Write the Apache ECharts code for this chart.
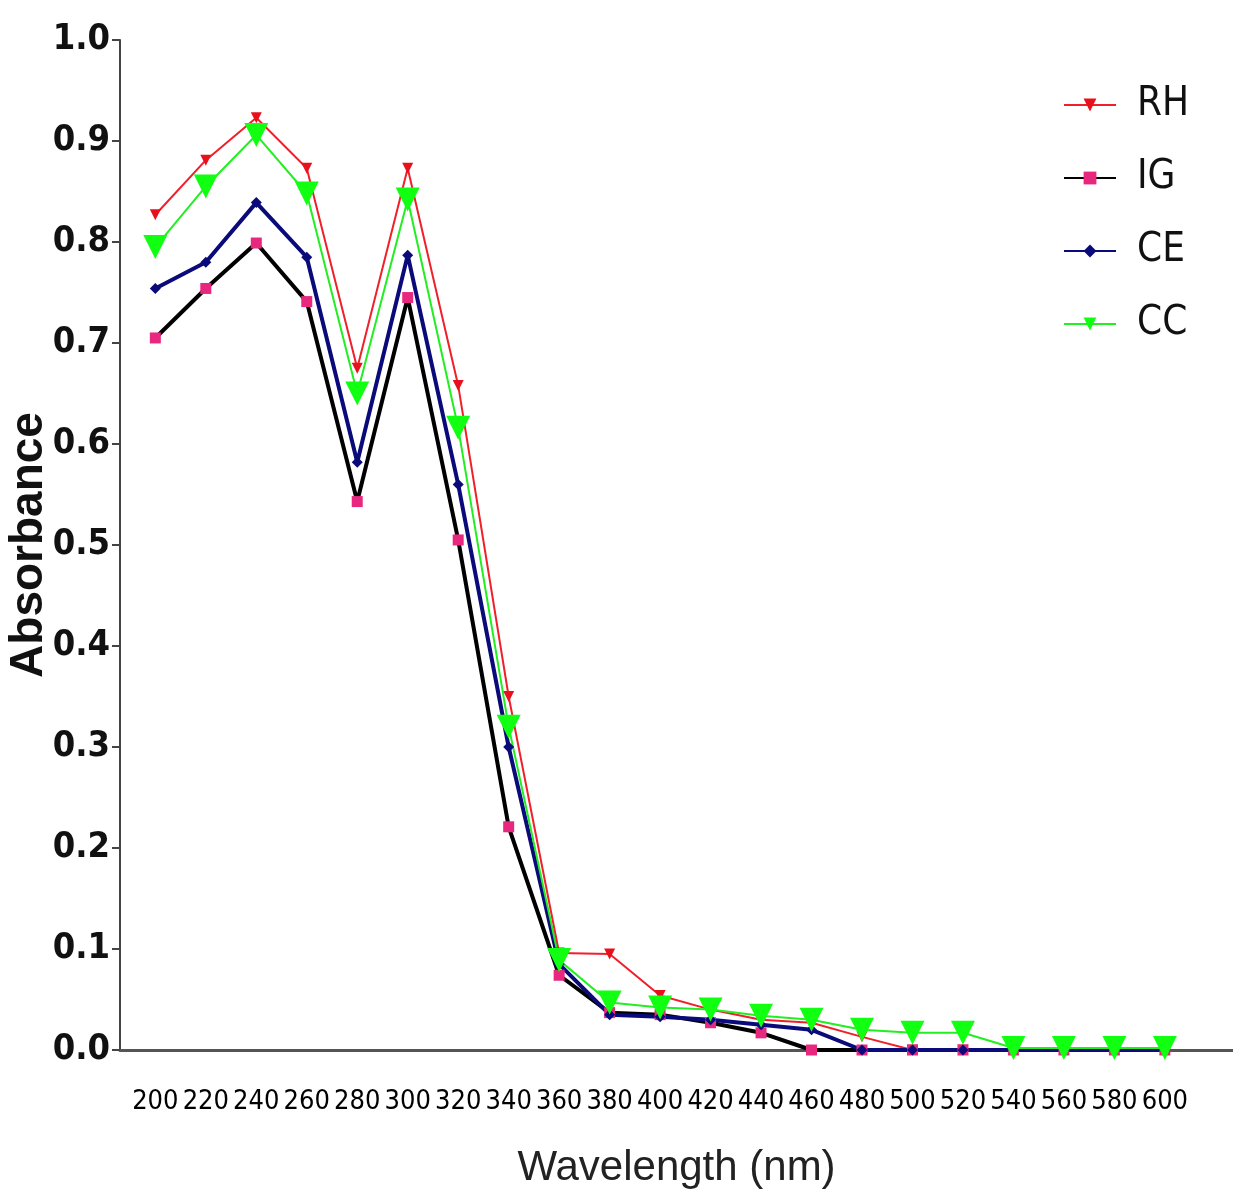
<!DOCTYPE html>
<html>
<head>
<meta charset="utf-8">
<script src="https://cdn.jsdelivr.net/npm/echarts@6/dist/echarts.min.js"></script>
<style>
  html, body { margin: 0; padding: 0; background: #fff; }
  #chart { width: 1233px; height: 1192px; }
</style>
</head>
<body>
<div id="chart"></div>
<script>
// wavelength categories (nm)
var wavelength = [200, 220, 240, 260, 280, 300, 320, 340, 360, 380, 400,
                  420, 440, 460, 480, 500, 520, 540, 560, 580, 600];

// absorbance per sample
var RH = [0.827, 0.881, 0.923, 0.873, 0.675, 0.873, 0.658, 0.350, 0.096, 0.095, 0.054,
          0.040, 0.030, 0.027, 0.013, 0.000, 0.000, 0.000, 0.000, 0.000, 0.000];
var IG = [0.705, 0.754, 0.799, 0.741, 0.543, 0.745, 0.505, 0.221, 0.074, 0.037, 0.035,
          0.027, 0.017, 0.000, 0.000, 0.000, 0.000, 0.000, 0.000, 0.000, 0.000];
var CE = [0.754, 0.780, 0.839, 0.785, 0.582, 0.787, 0.560, 0.300, 0.085, 0.035, 0.033,
          0.030, 0.025, 0.020, 0.000, 0.000, 0.000, 0.000, 0.000, 0.000, 0.000];
var CC = [0.795, 0.855, 0.906, 0.848, 0.650, 0.842, 0.616, 0.320, 0.089, 0.047, 0.042,
          0.040, 0.034, 0.030, 0.020, 0.017, 0.017, 0.002, 0.002, 0.002, 0.002];

var yTicks = [0, 0.1, 0.2, 0.3, 0.4, 0.5, 0.6, 0.7, 0.8, 0.9, 1.0];

function pairs(vals) {
    return vals.map(function (v, i) { return [wavelength[i], v]; });
}

var narrow = '"DejaVu Sans Condensed", "DejaVu Sans", sans-serif';

var chart = echarts.init(document.getElementById('chart'));
var option = {
    backgroundColor: '#fff',
    animation: false,
    grid: { left: 120, top: 40, right: 0, bottom: 142, outerBoundsMode: 'none', containLabel: false },
    legend: {
        orient: 'vertical',
        left: 1058,
        top: 78,
        itemWidth: 52,
        itemHeight: 16,
        itemGap: 29,
        textStyle: { fontFamily: narrow, fontSize: 40, color: '#111', lineHeight: 44, padding: [0, 0, 0, 16] },
        data: ['RH', 'IG', 'CE', 'CC']
    },
    xAxis: {
        type: 'value',
        min: 186,
        max: 627,
        splitLine: { show: false },
        axisLine: { lineStyle: { color: '#555', width: 3 } },
        axisTick: { show: false },
        axisLabel: {
            customValues: wavelength,
            margin: 38,
            fontFamily: narrow,
            fontSize: 27,
            color: '#000'
        },
        name: 'Wavelength (nm)',
        nameLocation: 'middle',
        nameGap: 97,
        nameMoveOverlap: false,
        nameTextStyle: { fontFamily: '"Liberation Sans", sans-serif', fontSize: 42, color: '#222' }
    },
    yAxis: {
        type: 'value',
        min: 0,
        max: 1,
        interval: 0.1,
        splitLine: { show: false },
        axisLine: { show: true, lineStyle: { color: '#444', width: 2 } },
        axisTick: { show: true, length: 8, lineStyle: { color: '#444', width: 2 } },
        axisLabel: {
            customValues: yTicks,
            margin: 10,
            fontFamily: narrow,
            fontWeight: 'bold',
            fontSize: 36,
            color: '#111',
            formatter: function (v) { return v.toFixed(1); }
        },
        name: 'Absorbance',
        nameLocation: 'middle',
        nameGap: 68,
        nameMoveOverlap: false,
        nameTextStyle: { fontFamily: '"Liberation Sans", sans-serif', fontWeight: 'bold', fontSize: 46, color: '#111' }
    },
    series: [
        {
            name: 'RH',
            type: 'line',
            data: pairs(RH),
            symbol: 'triangle',
            symbolRotate: 180,
            symbolSize: 11,
            lineStyle: { color: '#f0202a', width: 2 },
            itemStyle: { color: '#e8101c' }
        },
        {
            name: 'IG',
            type: 'line',
            data: pairs(IG),
            symbol: 'rect',
            symbolSize: 11,
            lineStyle: { color: '#000', width: 4 },
            itemStyle: { color: '#e8287e' }
        },
        {
            name: 'CE',
            type: 'line',
            data: pairs(CE),
            symbol: 'diamond',
            symbolSize: 11,
            lineStyle: { color: '#0a0a7a', width: 4 },
            itemStyle: { color: '#0a0a7a' }
        },
        {
            name: 'CC',
            type: 'line',
            data: pairs(CC),
            symbol: 'triangle',
            symbolRotate: 180,
            symbolSize: 24,
            lineStyle: { color: '#22ee22', width: 2 },
            itemStyle: { color: '#11ff11' }
        }
    ]
};
chart.setOption(option);
</script>
</body>
</html>
